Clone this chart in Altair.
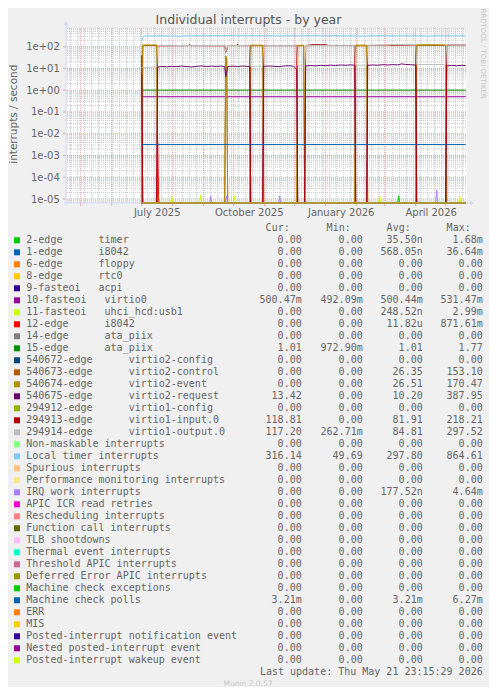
import altair as alt
import pandas as pd
from datetime import datetime, timedelta

# ---------------- text ----------------
TITLE = "Individual interrupts - by year"
Y_TITLE = "interrupts / second"
LAST_UPDATE = "Last update: Thu May 21 23:15:29 2026"
FOOTER = "Munin 2.0.57"
WATERMARK = "RRDTOOL / TOBI OETIKER"
HEADERS = ["Cur:", "Min:", "Avg:", "Max:"]

# ---------------- axes ----------------
X_START = "2025-04-16T07:00:00Z"
X_END = "2026-05-21T07:00:00Z"
X_LABEL_DATES = ["2025-07-16", "2025-10-16", "2026-01-16", "2026-04-16"]
Y_MIN = 6.55e-6
Y_MAX = 723.0
Y_DECADES = [1e-5, 1e-4, 1e-3, 1e-2, 1e-1, 1.0, 10.0, 100.0]
MONTH_STARTS = ["2025-05-01", "2025-06-01", "2025-07-01", "2025-08-01", "2025-09-01",
                "2025-10-01", "2025-11-01", "2025-12-01", "2026-01-01", "2026-02-01",
                "2026-03-01", "2026-04-01", "2026-05-01"]
FIRST_MONDAY = "2025-04-21"

# ---------------- legend ----------------
NAMES = [
    "2-edge      timer", "1-edge      i8042", "6-edge      floppy", "8-edge      rtc0",
    "9-fasteoi   acpi", "10-fasteoi   virtio0", "11-fasteoi   uhci_hcd:usb1",
    "12-edge      i8042", "14-edge      ata_piix", "15-edge      ata_piix",
    "540672-edge      virtio2-config", "540673-edge      virtio2-control",
    "540674-edge      virtio2-event", "540675-edge      virtio2-request",
    "294912-edge      virtio1-config", "294913-edge      virtio1-input.0",
    "294914-edge      virtio1-output.0", "Non-maskable interrupts", "Local timer interrupts",
    "Spurious interrupts", "Performance monitoring interrupts", "IRQ work interrupts",
    "APIC ICR read retries", "Rescheduling interrupts", "Function call interrupts",
    "TLB shootdowns", "Thermal event interrupts", "Threshold APIC interrupts",
    "Deferred Error APIC interrupts", "Machine check exceptions", "Machine check polls",
    "ERR", "MIS", "Posted-interrupt notification event", "Nested posted-interrupt event",
    "Posted-interrupt wakeup event",
]
COLORS = [
    "#00CC00", "#0066B3", "#FF8000", "#FFCC00", "#330099", "#990099", "#CCFF00", "#FF0000",
    "#808080", "#008F00", "#00487D", "#B35A00", "#B38F00", "#6B006B", "#8FB300", "#B30000",
    "#BEBEBE", "#80FF80", "#80C9FF", "#FFC080", "#FFE680", "#AA80FF", "#EE00CC", "#FF8080",
    "#666600", "#FFBFFF", "#00FFCC", "#CC6699", "#999900", "#00CC00", "#0066B3", "#FF8000",
    "#FFCC00", "#330099", "#990099", "#CCFF00",
]
Z = "0.00"
CUR = [Z, Z, Z, Z, Z, "500.47m", Z, Z, Z, "1.01", Z, Z, Z, "13.42", Z, "118.81", "117.20",
       Z, "316.14", Z, Z, Z, Z, Z, Z, Z, Z, Z, Z, Z, "3.21m", Z, Z, Z, Z, Z]
MINS = [Z, Z, Z, Z, Z, "492.09m", Z, Z, Z, "972.90m", Z, Z, Z, Z, Z, Z, "262.71m",
        Z, "49.69", Z, Z, Z, Z, Z, Z, Z, Z, Z, Z, Z, Z, Z, Z, Z, Z, Z]
AVGS = ["35.50n", "568.05n", Z, Z, Z, "500.44m", "248.52n", "11.82u", Z, "1.01", Z, "26.35",
        "26.51", "10.20", Z, "81.91", "84.81", Z, "297.80", Z, Z, "177.52n", Z, Z, Z, Z, Z,
        Z, Z, Z, "3.21m", Z, Z, Z, Z, Z]
MAXS = ["1.68m", "36.64m", Z, Z, Z, "531.47m", "2.99m", "871.61m", Z, "1.77", Z, "153.10",
        "170.47", "387.95", Z, "218.21", "297.52", Z, "864.61", Z, Z, "4.64m", Z, Z, Z, Z, Z,
        Z, Z, Z, "6.27m", Z, Z, Z, Z, Z]

# ---------------- series (daily values) ----------------
DATA_START = "2025-07-01"
DATA_END = "2026-05-21"

VIRTIO0_DATES = [DATA_START, DATA_END]
VIRTIO0_VALS = [0.5004, 0.5005]
ATA15_DATES = [DATA_START, DATA_END]
ATA15_VALS = [1.01, 1.01]
MCP_DATES = [DATA_START, DATA_END]
MCP_VALS = [3.21e-3, 3.21e-3]

CONTROL_DATES = ["2025-07-01", "2025-07-02", "2025-07-16", "2025-07-17", "2025-09-22", "2025-09-23",
                 "2025-09-24", "2025-09-25", "2025-10-17", "2025-10-18", "2025-10-30", "2025-10-31",
                 "2025-12-03", "2025-12-04", "2025-12-10", "2025-12-11", "2026-01-30", "2026-01-31",
                 "2026-02-11", "2026-02-12", "2026-04-01", "2026-04-02", "2026-05-01", "2026-05-02",
                 "2026-05-21"]
CONTROL_VALS = [0, 112, 113, 0, 0, 34, 27, 0, 0, 110, 110, 0, 0, 110, 110, 0, 0, 110, 110, 0, 0,
                115, 114, 0, 0]
EVENT_DATES = ["2025-07-01", "2025-07-02", "2025-07-16", "2025-07-17", "2025-09-22", "2025-09-23",
               "2025-09-24", "2025-09-25", "2025-10-17", "2025-10-18", "2025-10-30", "2025-10-31",
               "2025-12-03", "2025-12-04", "2025-12-10", "2025-12-11", "2026-01-30", "2026-01-31",
               "2026-02-11", "2026-02-12", "2026-04-01", "2026-04-02", "2026-04-15", "2026-05-01",
               "2026-05-02", "2026-05-21"]
EVENT_VALS = [0, 120, 121, 0, 0, 38, 30, 0, 0, 118, 118, 0, 0, 117, 117, 0, 0, 118, 118, 0, 0,
              122, 124, 121, 0, 0]
REQUEST_DATES = ["2025-07-01", "2025-07-02", "2025-07-16", "2025-07-17", "2025-07-21", "2025-07-26",
                 "2025-07-31", "2025-08-05", "2025-08-10", "2025-08-15", "2025-08-20", "2025-08-25",
                 "2025-08-30", "2025-09-04", "2025-09-09", "2025-09-14", "2025-09-19", "2025-09-22",
                 "2025-09-23", "2025-09-24", "2025-09-25", "2025-09-30", "2025-10-05", "2025-10-10",
                 "2025-10-14", "2025-10-17", "2025-10-18", "2025-10-30", "2025-10-31", "2025-11-05",
                 "2025-11-10", "2025-11-15", "2025-11-20", "2025-11-25", "2025-11-30", "2025-12-03",
                 "2025-12-04", "2025-12-11", "2025-12-12", "2025-12-17", "2025-12-22", "2025-12-27",
                 "2026-01-01", "2026-01-06", "2026-01-11", "2026-01-16", "2026-01-21", "2026-01-26",
                 "2026-01-30", "2026-01-31", "2026-02-11", "2026-02-12", "2026-02-17", "2026-02-22",
                 "2026-02-27", "2026-03-04", "2026-03-09", "2026-03-14", "2026-03-18", "2026-03-22",
                 "2026-03-27", "2026-04-01", "2026-04-02", "2026-05-01", "2026-05-02", "2026-05-07",
                 "2026-05-12", "2026-05-17", "2026-05-21"]
REQUEST_VALS = [5.4, 0, 0, 11.5, 12.4, 11.8, 12.6, 12.1, 12.9, 12.2, 11.7, 12.5, 13.1, 12.3, 12.8,
                12.4, 12.9, 12.0, 4.2, 6.5, 12.2, 12.8, 12.3, 13.0, 12.5, 12.1, 0, 0, 12.4, 13.0,
                12.6, 12.1, 12.9, 13.3, 12.7, 9.0, 0, 0, 13.0, 13.6, 13.1, 13.9, 13.5, 14.2, 13.8,
                14.4, 14.0, 14.6, 14.1, 0, 0, 13.9, 14.5, 14.1, 14.9, 14.4, 15.0, 14.6, 16.2, 15.2,
                14.8, 14.3, 0, 0, 13.1, 13.9, 13.2, 14.0, 13.4]
INPUT_DATES = ["2025-07-01", "2025-07-02", "2025-07-16", "2025-07-17", "2025-08-17", "2025-08-18",
               "2025-08-19", "2025-09-22", "2025-09-23", "2025-09-24", "2025-09-25", "2025-10-04",
               "2025-10-05", "2025-10-06", "2025-10-17", "2025-10-18", "2025-10-30", "2025-10-31",
               "2025-12-03", "2025-12-04", "2025-12-11", "2025-12-12", "2025-12-18", "2026-01-02",
               "2026-01-03", "2026-01-30", "2026-01-31", "2026-02-11", "2026-02-12", "2026-04-01",
               "2026-04-02", "2026-05-01", "2026-05-02", "2026-05-21"]
INPUT_VALS = [40, 0, 0, 110, 112, 128, 112, 110, 55, 70, 112, 112, 130, 112, 112, 0, 0, 112, 112,
              0, 0, 112, 124, 124, 113, 113, 0, 0, 114, 120, 0, 0, 118, 118.81]
OUTPUT_DATES = ["2025-07-01", "2025-07-16", "2025-07-17", "2025-08-20", "2025-09-22", "2025-09-23",
                "2025-09-24", "2025-09-25", "2025-10-17", "2025-10-18", "2025-10-30", "2025-10-31",
                "2025-12-03", "2025-12-04", "2025-12-11", "2025-12-12", "2026-01-30", "2026-01-31",
                "2026-02-11", "2026-02-12", "2026-03-05", "2026-03-08", "2026-04-01", "2026-04-02",
                "2026-05-01", "2026-05-02", "2026-05-21"]
OUTPUT_VALS = [11.0, 11.8, 112, 114, 112, 60, 75, 113, 112, 12.5, 12.8, 113, 112, 13.0, 13.2, 114,
               115, 14.0, 14.2, 115, 118, 126, 126, 15.0, 15.3, 120, 117.2]
LOCAL_TIMER_DATES = ["2025-07-01", "2025-07-02", "2025-07-04", "2025-07-20", "2025-08-10",
                     "2025-08-12", "2025-09-05", "2025-11-14", "2025-11-16", "2025-11-18",
                     "2026-01-31", "2026-02-02", "2026-02-04", "2026-02-10", "2026-02-12",
                     "2026-04-12", "2026-04-14", "2026-04-16", "2026-05-21"]
LOCAL_TIMER_VALS = [185, 260, 310, 318, 300, 316, 318, 317, 300, 317, 316, 300, 316, 300, 316, 316,
                    302, 316, 316.14]

SPIKES_TIMER = [("2026-03-15", 1.4e-5)]
SPIKES_USB = [("2025-07-31", 1.4e-5), ("2025-08-29", 1.5e-5), ("2025-10-02", 1.4e-5),
              ("2026-02-24", 1.4e-5), ("2026-05-15", 1.4e-5)]
SPIKES_I8042 = [("2025-07-17", 3.8e-3)]
SPIKES_IRQ_WORK = [("2025-09-08", 1.4e-5), ("2025-09-24", 1.4e-5), ("2025-11-16", 1.4e-5),
                   ("2026-04-22", 2.6e-5)]


def spike_points(spikes):
    pts = [(DATA_START, 0.0), (DATA_END, 0.0)]
    for d, p in spikes:
        t = datetime.strptime(d, "%Y-%m-%d")
        pts += [((t - timedelta(days=1)).strftime("%Y-%m-%d"), 0.0), (d, p),
                ((t + timedelta(days=1)).strftime("%Y-%m-%d"), 0.0)]
    return sorted(pts)


series = {i: [(DATA_START, 0.0), (DATA_END, 0.0)] for i in range(len(NAMES))}
series[0] = spike_points(SPIKES_TIMER)
series[5] = list(zip(VIRTIO0_DATES, VIRTIO0_VALS))
series[6] = spike_points(SPIKES_USB)
series[7] = spike_points(SPIKES_I8042)
series[9] = list(zip(ATA15_DATES, ATA15_VALS))
series[11] = list(zip(CONTROL_DATES, CONTROL_VALS))
series[12] = list(zip(EVENT_DATES, EVENT_VALS))
series[13] = list(zip(REQUEST_DATES, REQUEST_VALS))
series[15] = list(zip(INPUT_DATES, INPUT_VALS))
series[16] = list(zip(OUTPUT_DATES, OUTPUT_VALS))
series[18] = list(zip(LOCAL_TIMER_DATES, LOCAL_TIMER_VALS))
series[21] = spike_points(SPIKES_IRQ_WORK)
series[30] = list(zip(MCP_DATES, MCP_VALS))

rows = []
for i, pts in series.items():
    for d, v in pts:
        rows.append({"s": i, "date": d + "T00:00:00Z", "value": float(v)})
LINES = pd.DataFrame(rows)


def ms(s):
    return int(pd.Timestamp(s if "T" in s else s + "T00:00:00Z").value // 10**6)


X0, X1 = ms(X_START), ms(X_END)
mondays = []
t = datetime.strptime(FIRST_MONDAY, "%Y-%m-%d")
while t < datetime(2026, 5, 21):
    mondays.append(t.strftime("%Y-%m-%d") + "T00:00:00Z")
    t += timedelta(days=7)
MINOR_X = pd.DataFrame({"d": mondays})
MAJOR_X = pd.DataFrame({"d": [m + "T00:00:00Z" for m in MONTH_STARTS]})
MAJOR_Y = pd.DataFrame({"y": Y_DECADES})
MINOR_Y = pd.DataFrame({"y": [k * 10.0 ** e for e in range(-6, 3) for k in range(2, 10)
                              if Y_MIN < k * 10.0 ** e < Y_MAX]})

FONT_COL = "#666666"
GRID_MINOR = "#C8C8C8"
GRID_MAJOR = "#E9A0A0"
AXIS_COL = "#CFD6F8"

XS = alt.Scale(type="utc", domain=[X0, X1])
YS = alt.Scale(type="log", domain=[Y_MIN, Y_MAX])
XAXIS = alt.Axis(title=None, values=[ms(d) for d in X_LABEL_DATES],
                 labelExpr="utcFormat(datum.value, '%B %Y')", ticks=False, tickSize=0,
                 domain=False, grid=False, labelPadding=12.5, labelBaseline="alphabetic",
                 labelFontSize=10, labelColor=FONT_COL, labelFont="DejaVu Sans",
                 labelFlush=False, labelOverlap=False)
YAXIS = alt.Axis(title=None, values=Y_DECADES,
                 labelExpr="'1e' + (datum.value >= 1 ? '+' : '-') + '0' + abs(round(log(datum.value) / LN10))",
                 ticks=False, tickSize=0, domain=False, grid=False, labelPadding=6.7,
                 labelBaseline="middle", labelFontSize=10, labelColor=FONT_COL,
                 labelFont="DejaVu Sans", labelFlush=False, labelOverlap=False)


def X(f):
    return alt.X(f, type="temporal", scale=XS, axis=XAXIS)


def Y(f):
    return alt.Y(f, type="quantitative", scale=YS, axis=YAXIS)


layers = []
# grid
layers.append(alt.Chart(MINOR_X).mark_rule(color=GRID_MINOR, strokeDash=[1, 1], strokeWidth=1)
              .encode(x=X("d")))
layers.append(alt.Chart(MINOR_Y).mark_rule(color=GRID_MINOR, strokeDash=[1, 1], strokeWidth=1)
              .encode(y=Y("y")))
layers.append(alt.Chart(MAJOR_X).mark_rule(color=GRID_MAJOR, strokeDash=[1, 1], strokeWidth=1)
              .encode(x=X("d")))
layers.append(alt.Chart(MAJOR_Y).mark_rule(color=GRID_MAJOR, strokeDash=[1, 1], strokeWidth=1)
              .encode(y=Y("y")))
layers.append(alt.Chart(MAJOR_X).mark_rule(color=GRID_MAJOR, strokeWidth=1)
              .encode(x=X("d"), y=alt.value(175), y2=alt.value(178)))
layers.append(alt.Chart(MAJOR_Y).mark_rule(color=GRID_MAJOR, strokeWidth=1)
              .encode(y=Y("y"), x=alt.value(-3), x2=alt.value(0)))
# axis lines
layers.append(alt.Chart(pd.DataFrame({"a": [0]})).mark_rule(color=AXIS_COL, strokeWidth=1)
              .encode(x=alt.value(-2), x2=alt.value(405), y=alt.value(175)))
layers.append(alt.Chart(pd.DataFrame({"a": [0]})).mark_rule(color=AXIS_COL, strokeWidth=1)
              .encode(x=alt.value(0), y=alt.value(178), y2=alt.value(-5)))

# data lines, in legend (drawing) order
for i in range(len(NAMES)):
    layers.append(
        alt.Chart(LINES)
        .transform_filter(f"datum.s == {i}")
        .transform_calculate(v=f"max(datum.value, {Y_MIN})")
        .mark_line(color=COLORS[i], strokeWidth=1)
        .encode(x=X("date"), y=Y("v"))
    )

# arrows
layers.append(alt.Chart(pd.DataFrame({"a": [0]})).mark_point(shape="triangle-up", filled=True, size=22,
              color=AXIS_COL, opacity=1).encode(x=alt.value(0), y=alt.value(-5)))
layers.append(alt.Chart(pd.DataFrame({"a": [0]})).mark_point(shape="triangle-right", filled=True, size=22,
              color=AXIS_COL, opacity=1).encode(x=alt.value(406), y=alt.value(175)))

# titles
one = pd.DataFrame({"a": [0]})
layers.append(alt.Chart(one).mark_text(font="DejaVu Sans", fontSize=12.5, color="#555555",
              align="center", baseline="alphabetic")
              .encode(x=alt.value(182.5), y=alt.value(-4), text=alt.value(TITLE)))
layers.append(alt.Chart(one).mark_text(font="DejaVu Sans", fontSize=10.5, color=FONT_COL, angle=270,
              align="center", baseline="alphabetic")
              .encode(x=alt.value(-49.3), y=alt.value(86.2), text=alt.value(Y_TITLE)))
layers.append(alt.Chart(one).mark_text(font="DejaVu Sans", fontSize=7, color="#C8C8C8", angle=90,
              align="center", baseline="middle")
              .encode(x=alt.value(417), y=alt.value(25.5), text=alt.value(WATERMARK)))
layers.append(alt.Chart(one).mark_text(font="DejaVu Sans", fontSize=7.5, color="#C8C8C8",
              align="center", baseline="middle")
              .encode(x=alt.value(182), y=alt.value(656), text=alt.value(FOOTER)))

# legend
NB = "\u00a0"


def pad(s):
    return s if s[-1].isalpha() else s + NB


LEG = pd.DataFrame({
    "row": list(range(len(NAMES))),
    "name": [n.replace(" ", NB) for n in NAMES],
    "color": COLORS,
    "cur": [pad(v) for v in CUR],
    "mn": [pad(v) for v in MINS],
    "avg": [pad(v) for v in AVGS],
    "mx": [pad(v) for v in MAXS],
})
legbase = alt.Chart(LEG).transform_calculate(ty="215 + 12 * datum.row", sy="212.3 + 12 * datum.row")
layers.append(legbase.mark_square(size=36, opacity=1, strokeWidth=0)
              .encode(x=alt.value(-49), y=alt.Y("sy:Q", scale=None),
                      color=alt.Color("color:N", scale=None)))
txt = dict(font="DejaVu Sans Mono", fontSize=10, color=FONT_COL, baseline="alphabetic")
layers.append(legbase.mark_text(align="left", **txt)
              .encode(x=alt.value(-39.7), y=alt.Y("ty:Q", scale=None), text="name:N"))
for col, xr in zip(["cur", "mn", "avg", "mx"], [235.7, 296.7, 356.7, 416.7]):
    layers.append(legbase.mark_text(align="right", **txt)
                  .encode(x=alt.value(xr), y=alt.Y("ty:Q", scale=None), text=f"{col}:N"))
for h, xr in zip(HEADERS, [223.7, 284.7, 344.7, 404.7]):
    layers.append(alt.Chart(one).mark_text(align="right", **txt)
                  .encode(x=alt.value(xr), y=alt.value(203), text=alt.value(h)))
layers.append(alt.Chart(one).mark_text(align="right", **txt)
              .encode(x=alt.value(416.7), y=alt.value(647), text=alt.value(LAST_UPDATE)))

chart = alt.layer(*layers).properties(
    width=400, height=175,
    autosize=alt.AutoSizeParams(type="none"),
    padding={"left": 58, "top": 20, "right": 23, "bottom": 484},
    background="#F0F0F0",
).configure(font="DejaVu Sans").configure_view(fill="white", stroke="transparent")

chart.save("out.html", embed_options={"renderer": "svg", "actions": False})
